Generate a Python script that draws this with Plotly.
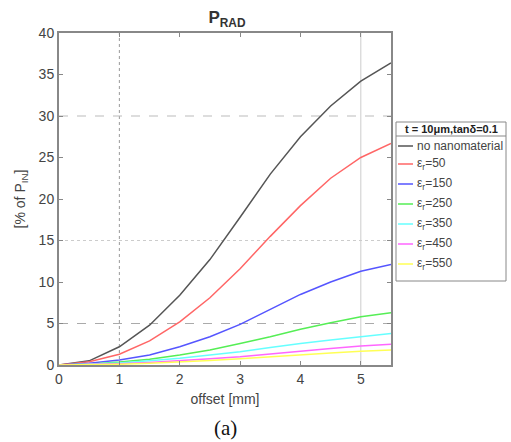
import plotly.graph_objects as go

offset = [0, 0.5, 1, 1.5, 2, 2.5, 3, 3.5, 4, 4.5, 5, 5.5]
names = ["no nanomaterial", "ε<sub>r</sub>=50", "ε<sub>r</sub>=150", "ε<sub>r</sub>=250",
         "ε<sub>r</sub>=350", "ε<sub>r</sub>=450", "ε<sub>r</sub>=550"]
no_nano = [0, 0.5, 2.2, 4.8, 8.4, 12.7, 17.8, 23.0, 27.5, 31.2, 34.2, 36.4]
er50 = [0, 0.4, 1.3, 2.9, 5.2, 8.1, 11.6, 15.5, 19.2, 22.5, 25.0, 26.7]
er150 = [0, 0.2, 0.6, 1.2, 2.2, 3.4, 4.9, 6.7, 8.5, 10.0, 11.3, 12.1]
er250 = [0, 0.1, 0.35, 0.7, 1.2, 1.8, 2.6, 3.4, 4.3, 5.1, 5.8, 6.3]
er350 = [0, 0.08, 0.25, 0.5, 0.8, 1.2, 1.6, 2.1, 2.6, 3.0, 3.4, 3.8]
er450 = [0, 0.05, 0.15, 0.3, 0.5, 0.75, 1.0, 1.35, 1.7, 2.0, 2.3, 2.5]
er550 = [0, 0.03, 0.1, 0.2, 0.35, 0.55, 0.75, 1.0, 1.25, 1.45, 1.65, 1.8]
series = [no_nano, er50, er150, er250, er350, er450, er550]
colors = ["#555555", "#ff6666", "#5555ff", "#55ee55", "#66ffff", "#ff66ff", "#ffff55"]
legend_title = "<b>t = 10μm,tanδ=0.1</b>"

# plot-area pixel geometry (for converting layout positions to paper coords)
L, R, T, B = 59, 391, 33, 365
W = R - L
H = B - T
def px(x):
    return (x - L) / W
def py(y):
    return (B - y) / H

fig = go.Figure()
for n, s, c in zip(names, series, colors):
    fig.add_trace(go.Scatter(x=offset, y=s, mode="lines", name=n, showlegend=False,
                             line=dict(color=c, width=1.5)))

grid_x = [(1, "dot", "#999999"), (5, "solid", "#cccccc")]
grid_y = [(5, "dash", "#aaaaaa"), (15, "dot", "#cccccc"), (30, "dash", "#bbbbbb")]
shapes = []
for gx, d, c in grid_x:
    shapes.append(dict(type="line", xref="x", yref="y", x0=gx, x1=gx, y0=0, y1=40,
                       line=dict(color=c, width=1, dash=d), layer="below"))
for gy, d, c in grid_y:
    shapes.append(dict(type="line", xref="x", yref="y", x0=0, x1=5.5, y0=gy, y1=gy,
                       line=dict(color=c, width=1, dash=d), layer="below"))

# custom legend box
annotations = []
shapes.append(dict(type="rect", xref="paper", yref="paper", x0=px(396), x1=px(506),
                   y0=py(281), y1=py(122), line=dict(color="#888888", width=1),
                   fillcolor="white", layer="above"))
shapes.append(dict(type="line", xref="paper", yref="paper", x0=px(396), x1=px(506),
                   y0=py(136), y1=py(136), line=dict(color="#888888", width=1)))
annotations.append(dict(text=legend_title, xref="paper", yref="paper", x=px(451), y=py(129),
                        xanchor="center", yanchor="middle", showarrow=False,
                        font=dict(size=11, color="#222222")))
row_y = [146, 164, 184, 204, 224, 244, 264]
for n, c, ry in zip(names, colors, row_y):
    shapes.append(dict(type="line", xref="paper", yref="paper", x0=px(398), x1=px(413),
                       y0=py(ry), y1=py(ry), line=dict(color=c, width=1.5)))
    annotations.append(dict(text=n, xref="paper", yref="paper", x=px(415), y=py(ry),
                            xanchor="left", yanchor="middle", showarrow=False,
                            font=dict(size=12, color="#444444")))

annotations.append(dict(text="(a)", xref="paper", yref="paper", x=px(225), y=py(428),
                        xanchor="center", yanchor="middle", showarrow=False,
                        font=dict(family="Liberation Serif, Times New Roman", size=21, color="#111111")))

fig.update_layout(
    width=511, height=442,
    margin=dict(l=L, r=511 - R, t=T, b=442 - B, autoexpand=False),
    paper_bgcolor="white", plot_bgcolor="white",
    font=dict(family="Liberation Sans, Arial", size=14, color="#444444"),
    title=dict(text="<b>P<sub>RAD</sub></b>", x=227/511, xanchor="center",
               y=1 - 17/442, yanchor="middle", font=dict(size=17, color="#333333")),
    shapes=shapes,
    annotations=annotations,
    showlegend=False,
)
fig.update_xaxes(range=[0, 5.5], tickvals=[0, 1, 2, 3, 4, 5], ticks="inside", ticklen=4,
                 showline=True, linecolor="#888888", linewidth=2, mirror="ticks",
                 tickcolor="#888888", showgrid=False, zeroline=False,
                 tickfont=dict(size=14),
                 title=dict(text="offset [mm]", standoff=8, font=dict(size=14)))
fig.update_yaxes(range=[0, 40], tickvals=[0, 5, 10, 15, 20, 25, 30, 35, 40], ticks="inside", ticklen=4,
                 showline=True, linecolor="#888888", linewidth=2, mirror="ticks",
                 tickcolor="#888888", showgrid=False, zeroline=False,
                 tickfont=dict(size=14),
                 title=dict(text="[% of P<sub>IN</sub>]", standoff=10, font=dict(size=14)))

fig.write_html("out.html")
